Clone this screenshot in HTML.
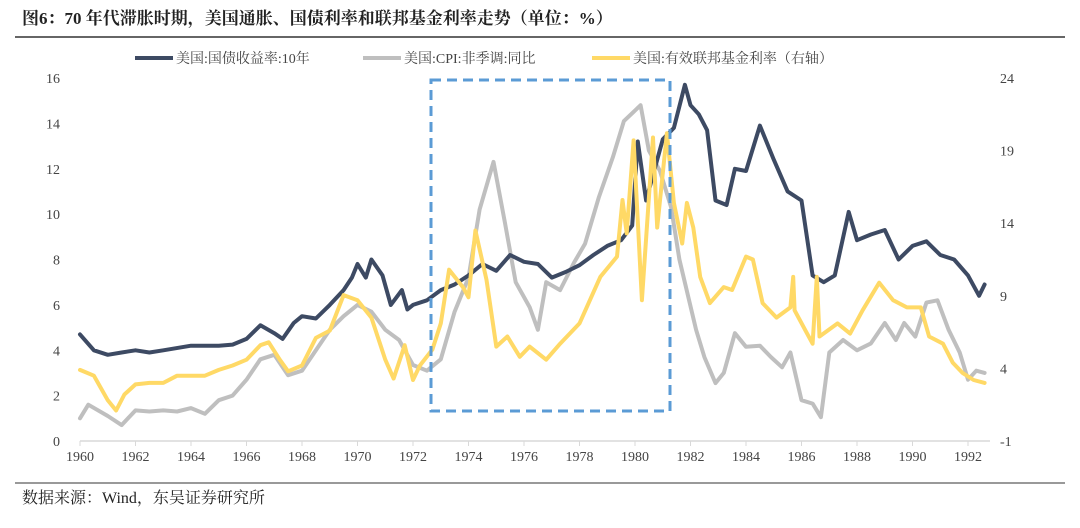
<!DOCTYPE html>
<html><head><meta charset="utf-8"><style>
body{margin:0;background:#fff;width:1080px;height:523px;overflow:hidden;font-family:"Liberation Serif","Noto Serif CJK SC",serif}
</style></head><body>
<svg width="1080" height="523" xmlns="http://www.w3.org/2000/svg">
<text x="22" y="24" font-size="17" font-weight="bold" fill="#222" font-family="Liberation Serif, Noto Serif CJK SC, serif">图6：70 年代滞胀时期，美国通胀、国债利率和联邦基金利率走势（单位：%）</text>
<line x1="15" y1="37" x2="1065" y2="37" stroke="#333" stroke-width="1.5"/>
<line x1="15" y1="483" x2="1065" y2="483" stroke="#333" stroke-width="1"/>
<text x="22" y="503" font-size="16" fill="#222">数据来源：Wind，东吴证券研究所</text>
<g id="legend">
<g><line x1="135" y1="58" x2="173" y2="58" stroke="#3d4a63" stroke-width="4"/><text x="176" y="63" font-size="14" fill="#444">美国:国债收益率:10年</text></g>
<g><line x1="363" y1="58" x2="401" y2="58" stroke="#bfbfbf" stroke-width="4"/><text x="404" y="63" font-size="14" fill="#444">美国:CPI:非季调:同比</text></g>
<g><line x1="592" y1="58" x2="630" y2="58" stroke="#ffd966" stroke-width="4"/><text x="633" y="63" font-size="14" fill="#444">美国:有效联邦基金利率（右轴）</text></g>
</g>
<g id="axes"></g>
<g id="series"></g>
<rect x="431" y="80" width="239" height="331" fill="none" stroke="#5b9bd5" stroke-width="3" stroke-dasharray="10,6"/>
</svg>
<script>
const xTickYears=[1960,1962,1964,1966,1968,1970,1972,1974,1976,1978,1980,1982,1984,1986,1988,1990,1992];
const leftTicks=[0,2,4,6,8,10,12,14,16];
const rightTicks=[-1,4,9,14,19,24];
const tDates=[1960,1960.5,1961,1961.5,1962,1962.5,1963,1964,1965,1965.5,1966,1966.5,1967,1967.3,1967.7,1968,1968.5,1969,1969.5,1969.8,1970,1970.3,1970.5,1970.9,1971.2,1971.6,1971.8,1972,1972.5,1973,1973.5,1974,1974.5,1975,1975.5,1976,1976.5,1977,1977.5,1978,1978.5,1979,1979.5,1979.9,1980.1,1980.4,1980.8,1981,1981.4,1981.8,1982,1982.3,1982.6,1982.9,1983.3,1983.6,1984,1984.5,1985,1985.5,1986,1986.4,1986.8,1987.2,1987.7,1988,1988.5,1989,1989.5,1990,1990.5,1991,1991.5,1992,1992.4,1992.6];
const treasury=[4.7,4.0,3.8,3.9,4.0,3.9,4.0,4.2,4.2,4.25,4.5,5.1,4.75,4.5,5.2,5.5,5.4,6.0,6.65,7.2,7.8,7.2,8.0,7.3,6.0,6.65,5.8,6.0,6.2,6.65,6.9,7.3,7.8,7.5,8.2,7.9,7.8,7.2,7.45,7.75,8.2,8.6,8.85,9.5,13.2,10.6,12.4,13.3,13.8,15.7,14.8,14.4,13.7,10.6,10.4,12.0,11.9,13.9,12.4,11.0,10.6,7.3,7.0,7.3,10.1,8.85,9.1,9.3,8.0,8.6,8.8,8.2,8.0,7.3,6.4,6.9];
const cDates=[1960,1960.3,1961,1961.5,1962,1962.5,1963,1963.5,1964,1964.5,1965,1965.5,1966,1966.5,1967,1967.5,1968,1968.5,1969,1969.5,1970,1970.5,1971,1971.5,1972,1972.5,1973,1973.5,1974,1974.4,1974.9,1975.3,1975.7,1976.2,1976.5,1976.8,1977.3,1977.8,1978.2,1978.7,1979.2,1979.6,1980.2,1980.5,1980.9,1981.3,1981.6,1982.2,1982.5,1982.9,1983.2,1983.6,1984,1984.5,1984.9,1985.3,1985.6,1986,1986.4,1986.7,1987,1987.5,1988,1988.5,1989,1989.4,1989.7,1990.1,1990.5,1990.9,1991.3,1991.7,1992,1992.3,1992.6];
const cpi=[1.0,1.6,1.1,0.7,1.35,1.3,1.35,1.3,1.45,1.2,1.8,2.0,2.7,3.6,3.8,2.9,3.1,4.0,4.9,5.5,6.0,5.7,4.9,4.45,3.35,3.1,3.6,5.7,7.2,10.2,12.3,9.7,7.0,5.9,4.9,7.0,6.65,7.85,8.7,10.75,12.5,14.1,14.8,12.8,11.9,10.3,8.0,4.9,3.7,2.55,3.0,4.75,4.15,4.2,3.7,3.25,3.9,1.8,1.65,1.05,3.9,4.45,4.0,4.3,5.2,4.45,5.2,4.6,6.1,6.2,4.9,3.9,2.7,3.1,3.0];
const fDates=[1960,1960.5,1961,1961.3,1961.6,1962,1962.5,1963,1963.5,1964,1964.5,1965,1965.5,1966,1966.5,1966.8,1967.2,1967.5,1968,1968.5,1969,1969.5,1970,1970.5,1971,1971.3,1971.7,1972,1972.25,1972.7,1973,1973.3,1973.8,1974,1974.25,1974.65,1975,1975.4,1975.85,1976.2,1976.8,1977.3,1978,1978.75,1979.35,1979.55,1979.7,1979.95,1980.25,1980.65,1980.8,1981.15,1981.4,1981.7,1981.87,1982.1,1982.35,1982.7,1983.2,1983.5,1984,1984.25,1984.6,1985.1,1985.6,1985.7,1985.75,1986.2,1986.4,1986.55,1986.65,1987.3,1987.75,1988.2,1988.8,1989.3,1989.8,1990.3,1990.6,1991.1,1991.45,1991.8,1992.2,1992.6];
const fedfunds=[3.9,3.5,1.8,1.1,2.2,2.9,3.0,3.0,3.5,3.5,3.5,3.9,4.2,4.6,5.6,5.8,4.6,3.8,4.2,6.1,6.6,9.05,8.7,7.5,4.6,3.3,5.6,3.2,4.2,5.3,7.1,10.8,9.6,8.9,13.5,10.1,5.5,6.2,4.8,5.5,4.6,5.7,7.1,10.3,11.7,15.6,13.3,19.7,8.7,19.9,13.7,20.2,15.4,12.6,15.4,13.7,10.3,8.5,9.6,9.4,11.7,11.5,8.5,7.5,8.2,10.3,8.0,6.4,5.7,10.3,6.2,7.1,6.4,8.0,9.9,8.7,8.2,8.2,6.2,5.7,4.4,3.7,3.2,3.0];
const NS="http://www.w3.org/2000/svg";
const X0=80,X1=968,Y0=441,Y1=78;
const xS=y=>X0+(y-1960)*(X1-X0)/32;
const yL=v=>Y0-v*(Y0-Y1)/16;
const yR=v=>Y0-(v+1)*(Y0-Y1)/25;
function mk(tag,attrs,parent){const e=document.createElementNS(NS,tag);for(const k in attrs)e.setAttribute(k,attrs[k]);parent.appendChild(e);return e;}
const axes=document.getElementById('axes');
const xa=mk('line',{x1:X0,y1:Y0,x2:990,y2:Y0,stroke:'#d9d9d9','stroke-width':1.5},axes);


xTickYears.forEach(y=>{
 const t=mk('line',{x1:xS(y),y1:Y0,x2:xS(y),y2:Y0+5,stroke:'#d9d9d9'},axes);
 
 
 const l=mk('text',{x:xS(y),y:Y0+20,'font-size':14,fill:'#444','text-anchor':'middle'},axes);l.textContent=y;
 
 
});
leftTicks.forEach(v=>{
 const l=mk('text',{x:60,y:yL(v)+5,'font-size':14,fill:'#444','text-anchor':'end'},axes);l.textContent=v;
 
 
});
rightTicks.forEach(v=>{
 const l=mk('text',{x:1000,y:yR(v)+5,'font-size':14,fill:'#444','text-anchor':'start'},axes);l.textContent=v;
 
 
});
const sg=document.getElementById('series');
function path(d,v,ys){return d.map((t,i)=>(i?'L':'M')+xS(t).toFixed(1)+','+ys(v[i]).toFixed(1)).join('');}
const pc=mk('path',{d:path(cDates,cpi,yL),fill:'none',stroke:'#bfbfbf','stroke-width':4,'stroke-linejoin':'round','stroke-linecap':'round'},sg);


const pt=mk('path',{d:path(tDates,treasury,yL),fill:'none',stroke:'#3d4a63','stroke-width':4,'stroke-linejoin':'round','stroke-linecap':'round'},sg);


const pf=mk('path',{d:path(fDates,fedfunds,yR),fill:'none',stroke:'#ffd966','stroke-width':4,'stroke-linejoin':'round','stroke-linecap':'round'},sg);


</script>
</body></html>
